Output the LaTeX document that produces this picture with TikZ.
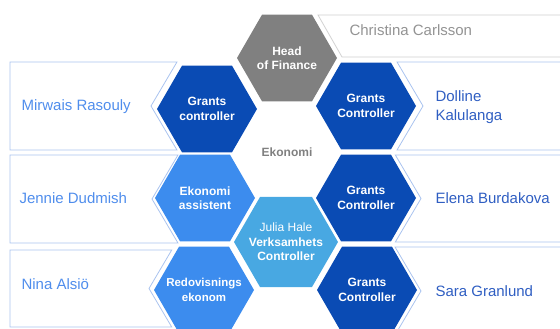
\documentclass[tikz,border=0pt]{standalone}
\usepackage{fontspec}
\setmainfont{Liberation Sans}
\usepackage{xcolor}
\usetikzlibrary{shapes.geometric, positioning}

\definecolor{dblue}{HTML}{0A4BB4}
\definecolor{mblue}{HTML}{3C8CEE}
\definecolor{cblue}{HTML}{48A8E2}
\definecolor{hgray}{HTML}{808080}
\definecolor{lname}{HTML}{4F8DEC}
\definecolor{rname}{HTML}{2F5EC2}
\definecolor{edgeblue}{HTML}{A9C3EF}
\definecolor{edgegray}{HTML}{CFCFCF}

\tikzset{
    hex/.style={regular polygon, regular polygon sides=6, minimum size=100pt, inner sep=-14pt,
        text=white, align=center, font=\bfseries\fontsize{12}{14.5}\selectfont},
    namebox/.style={draw=edgeblue, line width=0.8pt},
    person/.style={anchor=west, align=left, font=\fontsize{15}{19}\selectfont}
}

\begin{document}
\begin{tikzpicture}[x=1pt, y=-1pt]
                        \clip (0,0) rectangle (560,329);
                        % boxes behind the names
                        \foreach \t/\b/\n in {62/150/151, 155/243/152, 250/327/149}
                            \draw[namebox] (10,\t) -- ({\n+0.59*(\b-\t)/2},\t) -- (\n,{(\t+\b)/2}) -- ({\n+0.59*(\b-\t)/2},\b) -- (10,\b) -- cycle;
                        \foreach \t/\b/\n in {62/150/423, 155/242/421, 247/335/421}
                            \draw[namebox] (565,\t) -- ({\n-0.59*(\b-\t)/2},\t) -- (\n,{(\t+\b)/2}) -- ({\n-0.59*(\b-\t)/2},\b) -- (565,\b) -- cycle;
                        \draw[namebox, draw=edgegray] (318,15) -- (565,15) -- (565,57) -- (342,57) -- cycle;
                        % hexagons
                        \node[hex, fill=hgray] (head) at (287,58) {Head\\of Finance};
                        \node[hex, fill=dblue] (gcl) at (207,109) {Grants\\controller};
                        \node[hex, fill=mblue] (assist) at (205,198) {Ekonomi\\assistent};
                        \node[hex, fill=mblue, font=\bfseries\fontsize{11.5}{14.5}\selectfont] (redov) at (204,290) {Redovisnings\\ekonom};
                        \node[hex, fill=dblue] (gca) at (366,106) {Grants\\Controller};
                        \node[hex, fill=dblue] (gcb) at (366,198) {Grants\\Controller};
                        \node[hex, fill=dblue] (gcc) at (367,290) {Grants\\Controller};
                        \node[hex, fill=cblue, minimum size=104pt] (julia) at (286,242) {\mdseries Julia Hale\\Verksamhets\\Controller};
                        \node[font=\bfseries\fontsize{12}{14}\selectfont, text=hgray] (eko) at (287,152) {Ekonomi};
                        % names
                        \node[person, text=lname] (mirwais) at (18,107) {Mirwais Rasouly};
                        \node[person, text=lname] (jennie) at (16,198) {Jennie Dudmish};
                        \node[person, text=lname] (nina) at (18,284) {Nina Alsiö};
                        \node[person, text=rname] (dolline) at (432,107) {Dolline\\Kalulanga};
                        \node[person, text=rname] (elena) at (432,198) {Elena Burdakova};
                        \node[person, text=rname] (sara) at (432,291) {Sara Granlund};
                        \node[person, text=hgray!85] (christina) at (346,30) {Christina Carlsson};
                    \end{tikzpicture}
\end{document}
